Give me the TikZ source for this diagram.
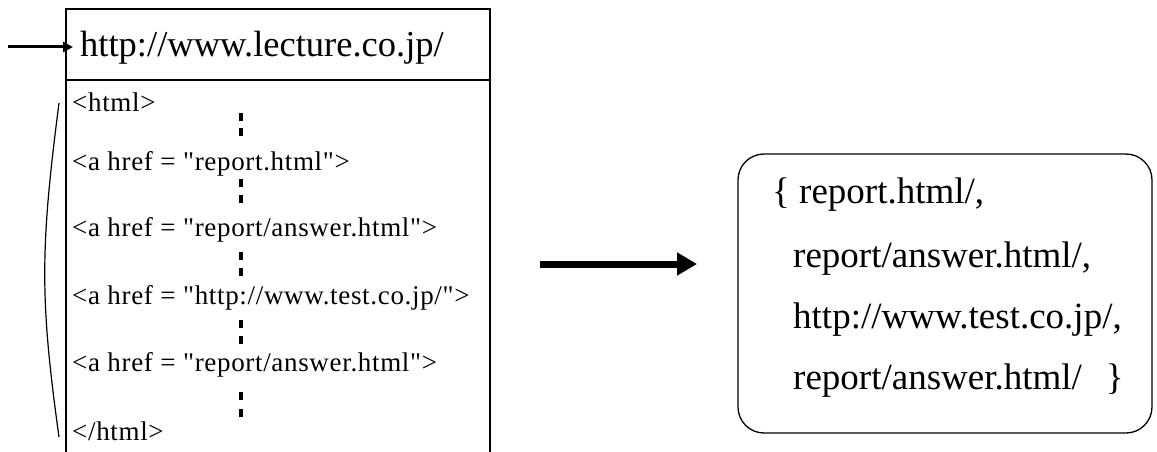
\documentclass[tikz,border=0pt]{standalone}
\usepackage{fontspec}
\setmainfont{Liberation Serif}
\newfontfamily\codefont[LetterSpace=2.5]{Liberation Serif}
\usetikzlibrary{arrows.meta}
\begin{document}
\begin{tikzpicture}[x=1pt,y=-1pt,
  frame/.style={line width=1.5pt},
  codeline/.style={anchor=base west,inner sep=0pt,font=\codefont\fontsize{27}{27}\selectfont},
  setline/.style={anchor=base west,inner sep=0pt,font=\fontsize{37}{37}\selectfont},
  dotmark/.style={fill=black,draw=none},
  ptr/.style={line width=3pt,-{Triangle[length=10pt,width=10pt]}},
  bigptr/.style={line width=7pt,-{Triangle[length=20pt,width=22pt]}}]
\useasboundingbox (0,0) rectangle (1157,452);

% page frame, open at the bottom, with the URL header
\coordinate (tl) at (66,9);
\coordinate (tr) at (490,9);
\coordinate (bl) at (66,452);
\coordinate (br) at (490,452);
\draw[frame] (bl) -- (tl) -- (tr) -- (br);
\draw[frame] (66,80) -- (490,80);
\node[anchor=base west,inner sep=0pt,font=\fontsize{36.5}{36.5}\selectfont] (hdr) at (80,57) {http://www.lecture.co.jp/};
\coordinate (in) at (8,47);
\draw[ptr] (in) -- (73,47);

% HTML source lines
\node[codeline] (l1) at (72,111) {<html>};
\node[codeline] (l2) at (72,170) {<a href = "report.html">};
\node[codeline] (l3) at (72,236) {<a href = "report/answer.html">};
\node[codeline] (l4) at (72,304) {<a href = "http://www.test.co.jp/">};
\node[codeline] (l5) at (72,371) {<a href = "report/answer.html">};
\node[codeline] (l6) at (72,440) {</html>};

% vertical ellipses between the lines
\foreach \y in {117,132,183,199,256,272,324,340,396,413}
  \fill[dotmark] (239,\y-4) rectangle (243,\y+4);

% bracket over the document body
\draw[line width=1.2pt] (59,103) .. controls (40,250) and (40,300) .. (59,437);

% extracted link set
\draw[line width=1.3pt,rounded corners=26pt] (738,154) rectangle (1152,433);
\node[setline] (s1) at (772,203) {\{ report.html/,};
\node[setline] (s2) at (793,267) {report/answer.html/,};
\node[setline] (s3) at (793,328) {http://www.test.co.jp/,};
\node[setline] (s4) at (793,389) {report/answer.html/\hspace{24pt}\}};

\coordinate (from) at (540,264);
\draw[bigptr] (from) -- (697,264);
\end{tikzpicture}
\end{document}
